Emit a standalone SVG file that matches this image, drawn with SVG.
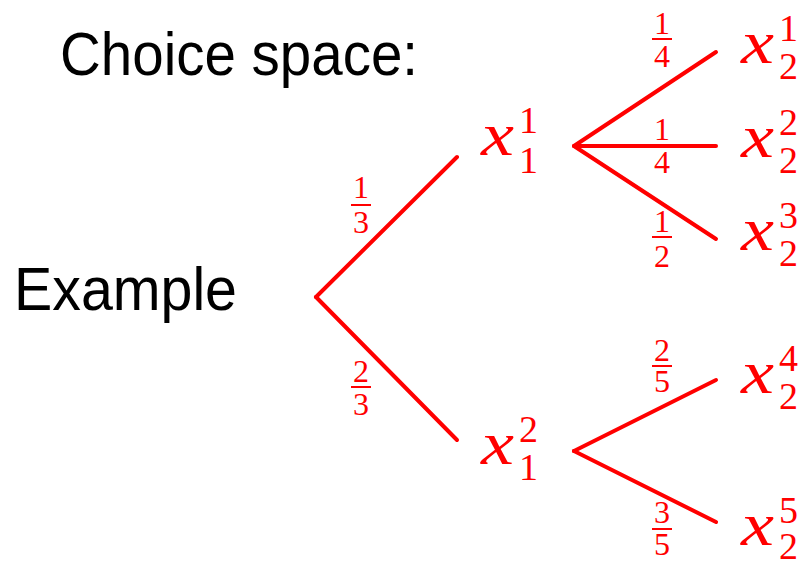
<svg xmlns="http://www.w3.org/2000/svg" width="804" height="561" viewBox="0 0 804 561">
<style>
.t{font-family:"Liberation Sans","DejaVu Sans",sans-serif;font-size:62px;fill:#000}
.x{font-family:"Liberation Serif","DejaVu Serif",serif;font-style:italic;font-size:62px;fill:#f00}
.s{font-family:"Liberation Serif","DejaVu Serif",serif;font-size:38px;fill:#f00}
.f{font-family:"Liberation Serif","DejaVu Serif",serif;font-size:32px;fill:#f00;text-anchor:middle}
.e{stroke:#f00;stroke-width:4;stroke-linecap:round;fill:none}
.b{stroke:#f00;stroke-width:2}
</style>
<rect width="804" height="561" fill="#fff"/>
<g id="title"><text class="t" x="60" y="75" textLength="358" lengthAdjust="spacingAndGlyphs">Choice space:</text></g>
<g id="root"><text class="t" x="14" y="310" textLength="223" lengthAdjust="spacingAndGlyphs">Example</text></g>
<g id="connectors">
<line class="e" x1="316" y1="297" x2="457" y2="157"/>
<line class="e" x1="316" y1="297" x2="457" y2="440"/>
<line class="e" x1="574" y1="146" x2="716" y2="52"/>
<line class="e" x1="574" y1="146" x2="716" y2="146"/>
<line class="e" x1="574" y1="146" x2="716" y2="239"/>
<line class="e" x1="574" y1="451" x2="716" y2="380"/>
<line class="e" x1="574" y1="451" x2="716" y2="522"/>
<g id="p13"><text class="f" x="361" y="198">1</text><line class="b" x1="351" y1="205" x2="371" y2="205"/><text class="f" x="361" y="233">3</text></g>
<g id="p23"><text class="f" x="361" y="382">2</text><line class="b" x1="351" y1="387" x2="371" y2="387"/><text class="f" x="361" y="415">3</text></g>
<g id="p14a"><text class="f" x="662" y="34">1</text><line class="b" x1="652" y1="39" x2="672" y2="39"/><text class="f" x="662" y="67">4</text></g>
<g id="p14b"><text class="f" x="662" y="140">1</text><text class="f" x="662" y="173">4</text></g>
<g id="p12"><text class="f" x="662" y="232">1</text><line class="b" x1="652" y1="237" x2="672" y2="237"/><text class="f" x="662" y="267">2</text></g>
<g id="p25"><text class="f" x="662" y="361">2</text><line class="b" x1="652" y1="366" x2="672" y2="366"/><text class="f" x="662" y="392">5</text></g>
<g id="p35"><text class="f" x="662" y="523">3</text><line class="b" x1="652" y1="529" x2="672" y2="529"/><text class="f" x="662" y="555">5</text></g>
</g>
<g id="x11"><text class="x" x="481" y="155" textLength="33" lengthAdjust="spacingAndGlyphs">x</text><text class="s" x="519" y="133">1</text><text class="s" x="519" y="173">1</text></g>
<g id="x12"><text class="x" x="481" y="464" textLength="33" lengthAdjust="spacingAndGlyphs">x</text><text class="s" x="519" y="442">2</text><text class="s" x="519" y="480">1</text></g>
<g id="x21"><text class="x" x="741" y="63" textLength="33" lengthAdjust="spacingAndGlyphs">x</text><text class="s" x="779" y="41">1</text><text class="s" x="779" y="79">2</text></g>
<g id="x22"><text class="x" x="741" y="157" textLength="33" lengthAdjust="spacingAndGlyphs">x</text><text class="s" x="779" y="135">2</text><text class="s" x="779" y="173">2</text></g>
<g id="x23"><text class="x" x="741" y="250" textLength="33" lengthAdjust="spacingAndGlyphs">x</text><text class="s" x="779" y="228">3</text><text class="s" x="779" y="266">2</text></g>
<g id="x24"><text class="x" x="741" y="393" textLength="33" lengthAdjust="spacingAndGlyphs">x</text><text class="s" x="779" y="371">4</text><text class="s" x="779" y="409">2</text></g>
<g id="x25"><text class="x" x="741" y="545" textLength="33" lengthAdjust="spacingAndGlyphs">x</text><text class="s" x="779" y="523">5</text><text class="s" x="779" y="559">2</text></g>
</svg>
